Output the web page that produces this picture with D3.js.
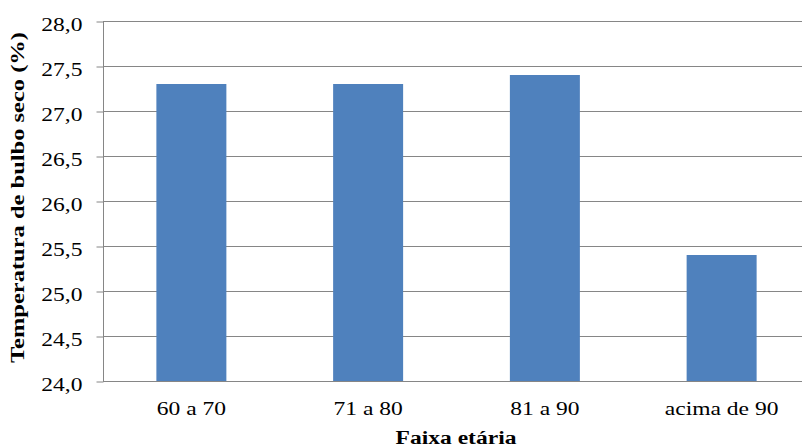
<!DOCTYPE html>
<html>
<head>
<meta charset="utf-8">
<script src="https://cdn.jsdelivr.net/npm/d3@7"></script>
<style>
  html, body { margin: 0; padding: 0; background: #fff; overflow: hidden; }
  svg { display: block; }
</style>
</head>
<body>
<svg id="chart" width="802" height="445"></svg>
<script>
// Faixas etárias e temperatura média de bulbo seco
const categories = ["60 a 70", "71 a 80", "81 a 90", "acima de 90"];
const values = [27.3, 27.3, 27.4, 25.4];
const yTicks = [24.0, 24.5, 25.0, 25.5, 26.0, 26.5, 27.0, 27.5, 28.0];

const svg = d3.select("#chart");
const margin = { left: 103, right: -8, top: 21, bottom: 64 };
const W = 802, H = 445;
const fmt = d => d.toFixed(1).replace(".", ",");
const stretch = 1.24; // largura dos rótulos horizontais

const x = d3.scaleBand()
  .domain(categories)
  .range([margin.left, W - margin.right])
  .paddingInner(0.604)
  .paddingOuter(0.302);

const y = d3.scaleLinear()
  .domain([24, 28])
  .range([H - margin.bottom, margin.top]);

const axisColor = "#868686";
const font = "'Liberation Serif', 'Times New Roman', serif";
const crisp = v => Math.round(v) + 0.5;

// linhas de grade horizontais
svg.append("g")
  .selectAll("line")
  .data(yTicks.slice(1))
  .join("line")
  .attr("x1", margin.left)
  .attr("x2", W - margin.right)
  .attr("y1", d => crisp(y(d)))
  .attr("y2", d => crisp(y(d)))
  .attr("stroke", axisColor)
  .attr("stroke-width", 1);

// barras
svg.append("g")
  .selectAll("rect")
  .data(values)
  .join("rect")
  .attr("x", (d, i) => x(categories[i]))
  .attr("width", x.bandwidth())
  .attr("y", d => y(d))
  .attr("height", d => y(24) - y(d))
  .attr("fill", "#4F81BD");

// eixo Y
const yAxis = d3.axisLeft(y)
  .tickValues(yTicks)
  .tickFormat(fmt)
  .tickSize(7)
  .tickPadding(14);

const gy = svg.append("g")
  .attr("transform", `translate(${margin.left + 0.5},0)`)
  .call(yAxis);
gy.select(".domain").attr("stroke", axisColor).attr("d", `M0,${y(28)}V${crisp(y(24))}`);
gy.selectAll(".tick line").attr("stroke", axisColor)
  .attr("transform", d => `translate(0,${crisp(y(d)) - y(d)})`);
gy.selectAll(".tick text")
  .attr("font-family", font)
  .attr("font-size", 19)
  .attr("fill", "#000")
  .attr("x", 0)
  .attr("dy", "0.48em")
  .attr("transform", `translate(-21,0) scale(${stretch},1)`);

// eixo X
const xAxis = d3.axisBottom(x).tickSize(0);
const gx = svg.append("g")
  .attr("transform", `translate(0,${crisp(y(24))})`)
  .call(xAxis);
gx.select(".domain").attr("stroke", axisColor).attr("d", `M${margin.left},0H${W}`);
gx.selectAll(".tick text")
  .attr("font-family", font)
  .attr("font-size", 19)
  .attr("fill", "#000")
  .attr("y", 0)
  .attr("dy", 0)
  .attr("transform", `translate(0,33.5) scale(${stretch},1)`);

// títulos dos eixos
svg.append("text")
  .attr("transform", `translate(24,197.5) rotate(-90)`)
  .attr("text-anchor", "middle")
  .attr("font-family", font)
  .attr("font-weight", "bold")
  .attr("font-size", 18)
  .attr("textLength", 331)
  .attr("lengthAdjust", "spacingAndGlyphs")
  .text("Temperatura de bulbo seco (%)");

svg.append("text")
  .attr("transform", `translate(456,444) scale(${stretch},1)`)
  .attr("text-anchor", "middle")
  .attr("font-family", font)
  .attr("font-weight", "bold")
  .attr("font-size", 19)
  .text("Faixa etária");
</script>
</body>
</html>
